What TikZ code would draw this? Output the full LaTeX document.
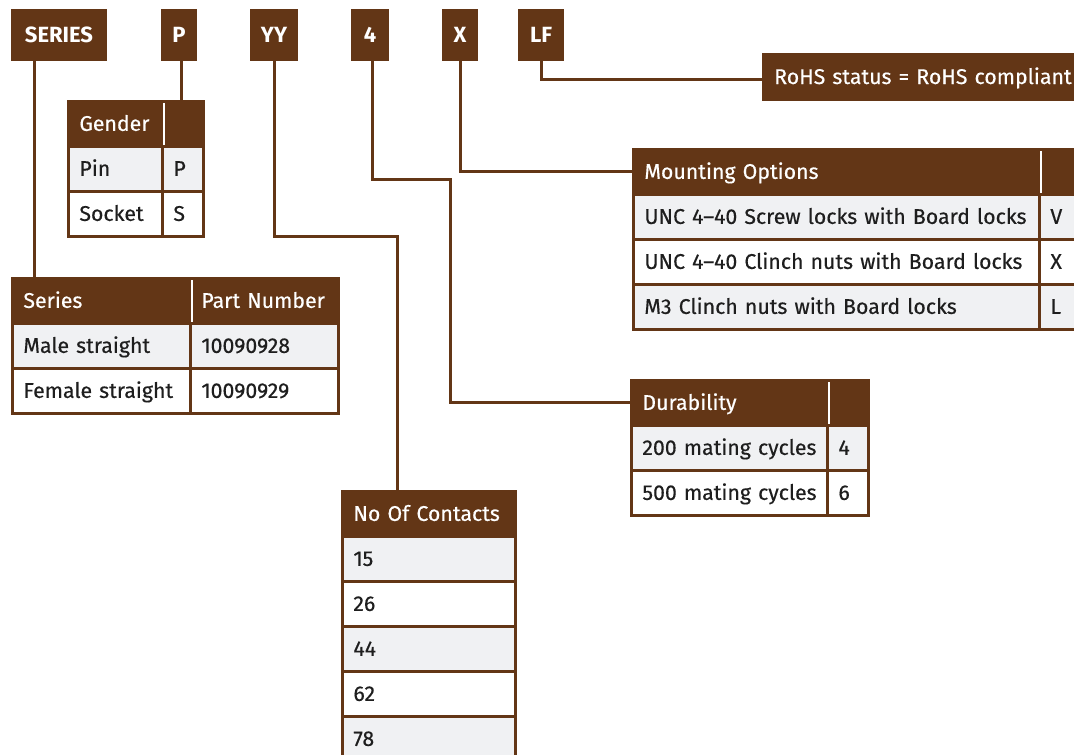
\documentclass[tikz,border=0pt]{standalone}
\usepackage{fontspec}
\setmainfont[FakeBold=0.4]{Fira Sans}
\newfontfamily\topfont{Fira Sans}
\definecolor{brn}{RGB}{99,54,22}
\definecolor{rowg}{RGB}{240,241,243}
\definecolor{txt}{RGB}{30,30,30}
\begin{document}
\begin{tikzpicture}[x=1pt,y=-1pt,
  topbox/.style={fill=brn, text=white, font=\topfont\fontsize{22}{24}\selectfont\bfseries, minimum height=52pt, inner sep=0pt},
  conn/.style={draw=brn, line width=3pt},
  oneline/.style={execute at begin node=\hbox\bgroup, execute at end node=\egroup},
  cell/.style={draw=brn, line width=2.8pt, anchor=north west, minimum height=45pt, inner xsep=11pt, inner ysep=0pt, text height=14pt, text depth=0pt, align=left, font=\fontsize{21.3}{24}\selectfont, text=txt, text width=#1, oneline},
  hcell/.style={cell=#1, fill=brn, text=white},
  gcell/.style={cell=#1, fill=rowg},
  wcell/.style={cell=#1, fill=white},
  sep/.style={draw=white, line width=2pt}]
\useasboundingbox (0,0) rectangle (1074,755);
\fill[white] (0,0) rectangle (1074,755);

% top code boxes
\node[topbox, minimum width=96pt] (series) at (59,35) {SERIES};
\node[topbox, minimum width=36pt] (p) at (179,35) {P};
\node[topbox, minimum width=48pt] (yy) at (274,35) {YY};
\node[topbox, minimum width=38pt] (four) at (370,35) {4};
\node[topbox, minimum width=36pt] (x) at (460,35) {X};
\node[topbox, minimum width=46pt] (lf) at (541,35) {LF};

% RoHS
\node[fill=brn, text=white, anchor=west, minimum height=48pt, inner xsep=12pt, text width=296pt, align=left, text height=14pt, text depth=0pt, font=\fontsize{21.3}{24}\selectfont, oneline] (rohs) at (762,77) {RoHS status = RoHS compliant};

% Gender table
\node[hcell=72pt] (gh) at (67,100) {Gender};
\node[hcell=19pt] (gh2) at (161,100) {};
\draw[sep] ([yshift=-3pt]gh.north east) -- ([yshift=3pt]gh.south east);
\node[gcell=72pt] (g1) at (67,145) {Pin};
\node[gcell=19pt] (g1c) at (161,145) {P};
\node[wcell=72pt] (g2) at (67,190) {Socket};
\node[wcell=19pt] (g2c) at (161,190) {S};

% Series table
\node[hcell=156pt] (sh) at (11,277) {Series};
\node[hcell=126pt] (sh2) at (189,277) {Part Number};
\draw[sep] ([yshift=-3pt]sh.north east) -- ([yshift=3pt]sh.south east);
\node[gcell=156pt] (s1) at (11,322) {Male straight};
\node[gcell=126pt] (s1c) at (189,322) {10090928};
\node[wcell=156pt] (s2) at (11,367) {Female straight};
\node[wcell=126pt] (s2c) at (189,367) {10090929};

% No Of Contacts table
\node[hcell=151pt] (nh) at (341,490) {No Of Contacts};
\node[gcell=151pt] (n1) at (341,535) {15};
\node[wcell=151pt] (n2) at (341,580) {26};
\node[gcell=151pt] (n3) at (341,625) {44};
\node[wcell=151pt] (n4) at (341,670) {62};
\node[gcell=151pt] (n5) at (341,715) {78};

% Durability table
\node[hcell=174pt] (dh) at (630,379) {Durability};
\node[hcell=19pt] (dh2) at (826,379) {};
\draw[sep] ([yshift=-3pt]dh.north east) -- ([yshift=3pt]dh.south east);
\node[gcell=174pt] (d1) at (630,424) {200 mating cycles};
\node[gcell=19pt] (d1c) at (826,424) {4};
\node[wcell=174pt] (d2) at (630,469) {500 mating cycles};
\node[wcell=19pt] (d2c) at (826,469) {6};

% Mounting options table
\node[hcell=384pt] (mh) at (632,148) {Mounting Options};
\node[hcell=25pt] (mh2) at (1038,148) {};
\draw[sep] ([yshift=-3pt]mh.north east) -- ([yshift=3pt]mh.south east);
\node[gcell=384pt] (m1) at (632,193) {UNC 4–40 Screw locks with Board locks};
\node[gcell=25pt] (m1c) at (1038,193) {V};
\node[wcell=384pt] (m2) at (632,238) {UNC 4–40 Clinch nuts with Board locks};
\node[wcell=25pt] (m2c) at (1038,238) {X};
\node[gcell=384pt] (m3) at (632,283) {M3 Clinch nuts with Board locks};
\node[gcell=25pt] (m3c) at (1038,283) {L};

% connectors
\coordinate (serx) at ([xshift=-25pt]series.south);
\draw[conn] (serx) -- (serx |- sh.north);
\draw[conn] ([xshift=2pt]p.south) -- ([xshift=2pt]p.south |- gh.north);
\coordinate (yybend) at (397,236);
\draw[conn] (yy.south) |- (yybend) -- (yybend |- nh.north);
\coordinate (fourbend) at (450,179);
\draw[conn] ([xshift=2pt]four.south) |- (fourbend) |- (dh.west);
\draw[conn] (x.south) |- (mh.west);
\draw[conn] (lf.south) |- ([yshift=-2pt]rohs.west);
\end{tikzpicture}
\end{document}
